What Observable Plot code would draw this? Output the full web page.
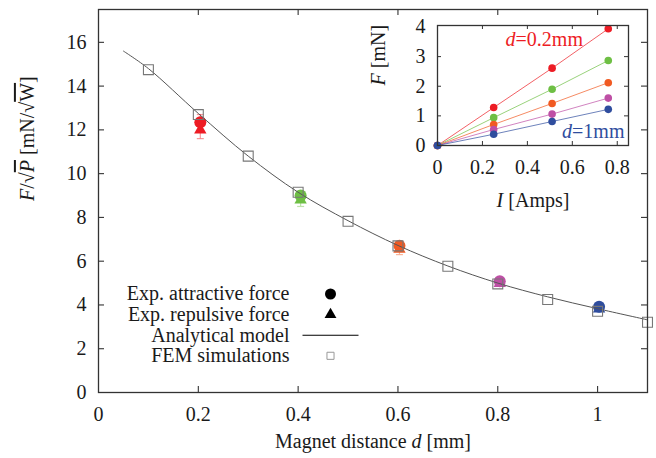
<!DOCTYPE html>
<html>
<head>
<meta charset="utf-8">
<script src="https://cdn.jsdelivr.net/npm/d3@7"></script>
<script src="https://cdn.jsdelivr.net/npm/@observablehq/plot@0.6"></script>
<style>
  html, body { margin: 0; padding: 0; background: #fff; }
  #wrap { position: relative; width: 656px; height: 458px; overflow: hidden; }
  #inset { position: absolute; left: 355px; top: 5px; }
  svg text { font-family: 'Liberation Serif', 'Times New Roman', Times, serif; }
</style>
</head>
<body>
<div id="wrap"><div id="main"></div><div id="inset"></div></div>
<script>
// ---------- data: main chart ----------
const distanceTicks = [0, 0.2, 0.4, 0.6, 0.8, 1];
const forceTicks = [0, 2, 4, 6, 8, 10, 12, 14, 16];

const seriesColors = ["#ed1c24", "#6ebf44", "#f15a22", "#be4fa5", "#2f4d9e"];

const expDistance = [0.204, 0.405, 0.603, 0.804, 1.003];
const attractive = [12.35, 9.0, 6.7, 5.08, 3.92];
const attractiveLow = [12.0, 8.8, 6.5, 4.95, 3.8];
const attractiveHigh = [12.7, 9.2, 6.9, 5.2, 4.0];
const repulsive = [12.0, 8.8, 6.55, 4.98, 3.82];
const repulsiveLow = [11.6, 8.5, 6.3, 4.85, 3.72];
const repulsiveHigh = [12.4, 9.1, 6.8, 5.1, 3.9];

const femDistance = [0.1, 0.2, 0.3, 0.4, 0.5, 0.6, 0.7, 0.8, 0.9, 1.0, 1.1];
const femForce = [14.75, 12.7, 10.8, 9.15, 7.82, 6.7, 5.77, 4.96, 4.25, 3.71, 3.21];

const modelDistance = [0.05, 0.1, 0.2, 0.3, 0.4, 0.5, 0.6, 0.7, 0.8, 0.9, 1.0, 1.1];
const modelForce = [15.6, 14.8, 12.75, 10.8, 9.15, 7.85, 6.72, 5.78, 5.0, 4.37, 3.83, 3.32];

const legendLabels = ["Exp. attractive force", "Exp. repulsive force", "Analytical model", "FEM simulations"];

// ---------- data: inset ----------
const currentTicks = [0, 0.2, 0.4, 0.6, 0.8];
const insetForceTicks = [0, 1, 2, 3, 4];
const currents = [0, 0.25, 0.51, 0.76];
const forceD02 = [0, 1.28, 2.61, 3.94];
const forceD04 = [0, 0.94, 1.9, 2.87];
const forceD06 = [0, 0.71, 1.42, 2.12];
const forceD08 = [0, 0.54, 1.06, 1.6];
const forceD10 = [0, 0.38, 0.81, 1.22];
const insetSeries = [forceD02, forceD04, forceD06, forceD08, forceD10];

// ---------- helpers ----------
const FONT = "Liberation Serif";
const capSymbol = { draw(ctx) { ctx.moveTo(-3.5, 0); ctx.lineTo(3.5, 0); } };
const legendLineSymbol = { draw(ctx) { ctx.moveTo(-28, 0); ctx.lineTo(28, 0); } };
const txt = { fontFamily: FONT, fontSize: 20 };

function rich(svg, plain, html) {
  svg.querySelectorAll("text").forEach(t => {
    if (t.textContent === plain) t.innerHTML = html;
  });
}

// ---------- main chart ----------
const W = 656, H = 458;
const mL = 98, mR = 9, mT = 9, mB = 66;
const fw = W - mL - mR, fh = H - mT - mB;
const tk = 6;

const expRows = expDistance.map((d, i) => ({
  d, att: attractive[i], attLow: attractiveLow[i], attHigh: attractiveHigh[i],
  rep: repulsive[i], repLow: repulsiveLow[i], repHigh: repulsiveHigh[i], color: seriesColors[i]
}));
const femRows = femDistance.map((d, i) => ({ d, f: femForce[i] }));
const modelRows = modelDistance.map((d, i) => ({ d, f: modelForce[i] }));

const legendRow0 = 293.5 - mT, legendStep = 20.6, legendTextDx = 289 - mL, legendSymDx = 330 - mL;

const main = Plot.plot({
  width: W, height: H,
  marginLeft: mL, marginRight: mR, marginTop: mT, marginBottom: mB,
  x: { domain: [0, 1.1] },
  y: { domain: [0, 17.5] },
  color: { type: "identity" },
  style: { fontFamily: FONT, fontSize: "20px", color: "#1a1a1a", background: "white" },
  marks: [
    Plot.ruleX(expRows, { x: "d", y1: "repLow", y2: "repHigh", stroke: "color", strokeOpacity: 0.45, strokeWidth: 1.2 }),
    Plot.dot(expRows, { x: "d", y: "repLow", symbol: capSymbol, r: 3, fill: "none", stroke: "color", strokeOpacity: 0.45, strokeWidth: 1.2 }),
    Plot.ruleX(expRows, { x: "d", y1: "attLow", y2: "attHigh", stroke: "color", strokeOpacity: 0.45, strokeWidth: 1.2 }),
    Plot.dot(expRows, { x: "d", y: "attHigh", symbol: capSymbol, r: 3, fill: "none", stroke: "color", strokeOpacity: 0.45, strokeWidth: 1.2 }),
    Plot.dot(expRows, { x: "d", y: "rep", symbol: "triangle", r: 4.6, fill: "color", stroke: "none" }),
    Plot.dot(expRows, { x: "d", y: "att", r: 6, fill: "color", stroke: "none" }),
    Plot.line(modelRows, { x: "d", y: "f", curve: "catmull-rom", stroke: "#555", strokeWidth: 1 }),
    Plot.dot(femRows, { x: "d", y: "f", symbol: "square", r: 5.6, fill: "none", stroke: "#777", strokeWidth: 1.1 }),
    Plot.frame({ stroke: "#333", strokeWidth: 1.3 }),
    Plot.tickX(distanceTicks.slice(1), { x: d => d, insetTop: fh - tk, stroke: "#333", strokeWidth: 1.1 }),
    Plot.tickX(distanceTicks.slice(1), { x: d => d, insetBottom: fh - tk, stroke: "#333", strokeWidth: 1.1 }),
    Plot.tickY(forceTicks.slice(1), { y: d => d, insetRight: fw - tk, stroke: "#333", strokeWidth: 1.1 }),
    Plot.tickY(forceTicks.slice(1), { y: d => d, insetLeft: fw - tk, stroke: "#333", strokeWidth: 1.1 }),
    Plot.axisX({ ticks: distanceTicks, tickSize: 0, tickPadding: 14, tickFormat: d => String(d), label: null, ...txt }),
    Plot.axisY({ ticks: forceTicks, tickSize: 0, tickPadding: 12, tickFormat: d => String(d), label: null, ...txt }),
    Plot.text(["Magnet distance d [mm]"], { frameAnchor: "bottom", dy: 49, lineAnchor: "middle", ...txt }),
    Plot.text(["F/√P [mN/√W]"], { frameAnchor: "left", dx: -71, rotate: -90, lineAnchor: "middle", ...txt }),
    ...legendLabels.map((t, i) => Plot.text([t], {
      frameAnchor: "top-left", dx: legendTextDx, dy: legendRow0 + i * legendStep,
      textAnchor: "end", lineAnchor: "middle", ...txt
    })),
    Plot.dot([0], { frameAnchor: "top-left", dx: legendSymDx, dy: legendRow0, r: 5.5, fill: "#000", stroke: "none" }),
    Plot.dot([0], { frameAnchor: "top-left", dx: legendSymDx, dy: legendRow0 + legendStep, symbol: "triangle", r: 4.4, fill: "#000", stroke: "none" }),
    Plot.dot([0], { frameAnchor: "top-left", dx: legendSymDx, dy: legendRow0 + 2 * legendStep, symbol: legendLineSymbol, r: 3, fill: "none", stroke: "#000", strokeWidth: 1.1 }),
    Plot.dot([0], { frameAnchor: "top-left", dx: legendSymDx, dy: legendRow0 + 3 * legendStep, symbol: "square", r: 4, fill: "none", stroke: "#999", strokeWidth: 1 })
  ]
});
rich(main, "Magnet distance d [mm]", 'Magnet distance <tspan font-style="italic">d</tspan> [mm]');
rich(main, "F/√P [mN/√W]",
  '<tspan font-style="italic">F</tspan>/√<tspan font-style="italic" style="text-decoration:overline">P</tspan> [mN/√<tspan style="text-decoration:overline">W</tspan>]');
document.getElementById("main").appendChild(main);

// ---------- inset ----------
const iW = 285, iH = 215, iL = 82, iR = 12, iT = 20, iB = 75;
const ifw = iW - iL - iR, ifh = iH - iT - iB;
const itk = 4;

const insetMarks = [];
insetSeries.forEach((arr, s) => {
  const rows = arr.map((f, i) => ({ I: currents[i], F: f }));
  insetMarks.push(Plot.line(rows, { x: "I", y: "F", stroke: seriesColors[s], strokeOpacity: 0.7, strokeWidth: 1 }));
});
insetSeries.forEach((arr, s) => {
  const rows = arr.map((f, i) => ({ I: currents[i], F: f }));
  insetMarks.push(Plot.dot(rows, { x: "I", y: "F", r: 3.8, fill: seriesColors[s], stroke: "none" }));
});

const inset = Plot.plot({
  width: iW, height: iH,
  marginLeft: iL, marginRight: iR, marginTop: iT, marginBottom: iB,
  x: { domain: [0, 0.85] },
  y: { domain: [0, 4.05] },
  style: { fontFamily: FONT, fontSize: "20px", color: "#1a1a1a", background: "transparent" },
  marks: [
    ...insetMarks,
    Plot.frame({ stroke: "#333", strokeWidth: 1.3 }),
    Plot.tickX(currentTicks.slice(1), { x: d => d, insetTop: ifh - itk, stroke: "#333" }),
    Plot.tickX(currentTicks.slice(1), { x: d => d, insetBottom: ifh - itk, stroke: "#333" }),
    Plot.tickY(insetForceTicks.slice(1, 4), { y: d => d, insetRight: ifw - itk, stroke: "#333" }),
    Plot.tickY(insetForceTicks.slice(1, 4), { y: d => d, insetLeft: ifw - itk, stroke: "#333" }),
    Plot.axisX({ ticks: currentTicks, tickSize: 0, tickPadding: 14, tickFormat: d => String(d), label: null, ...txt }),
    Plot.axisY({ ticks: insetForceTicks, tickSize: 0, tickPadding: 12, tickFormat: d => String(d), label: null, ...txt }),
    Plot.text(["I [Amps]"], { frameAnchor: "bottom", dy: 55, lineAnchor: "middle", ...txt }),
    Plot.text(["F [mN]"], { frameAnchor: "left", dx: -59, rotate: -90, lineAnchor: "middle", ...txt }),
    Plot.text(["d=0.2mm"], { x: 0.303, y: 3.58, textAnchor: "start", lineAnchor: "middle", fill: seriesColors[0], ...txt }),
    Plot.text(["d=1mm"], { x: 0.832, y: 0.455, textAnchor: "end", lineAnchor: "middle", fill: seriesColors[4], ...txt })
  ]
});
rich(inset, "I [Amps]", '<tspan font-style="italic">I</tspan> [Amps]');
rich(inset, "F [mN]", '<tspan font-style="italic">F</tspan> [mN]');
rich(inset, "d=0.2mm", '<tspan font-style="italic">d</tspan>=0.2mm');
rich(inset, "d=1mm", '<tspan font-style="italic">d</tspan>=1mm');
document.getElementById("inset").appendChild(inset);
</script>
</body>
</html>
